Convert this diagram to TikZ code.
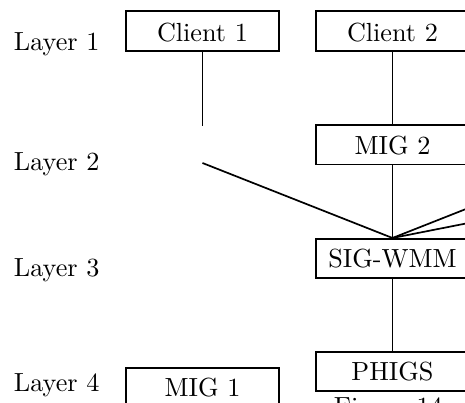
\documentclass[tikz,border=0pt]{standalone}
\usepackage{tikz}
\begin{document}
\begin{tikzpicture}[
  x=0.3817pt, y=-0.3817pt,
  line width=0.7pt,
  layerbox/.style={draw, line width=0.75pt, inner sep=0pt,
    minimum width=58.4pt, minimum height=14.9pt,
    text height=6.9pt, text depth=0pt},
  clientbox/.style={layerbox, text height=8pt},
  layerlabel/.style={anchor=base west, inner sep=0pt},
  link/.style={line width=0.65pt}
]
\useasboundingbox (0,0) rectangle (465,403);
\clip (0,0) rectangle (465,403);

% layer captions on the left
\node[layerlabel] (l1) at (13,50)  {Layer 1};
\node[layerlabel] (l2) at (13,171) {Layer 2};
\node[layerlabel] (l3) at (13,277) {Layer 3};
\node[layerlabel] (l4) at (13,392) {Layer 4};

% component boxes
\node[clientbox] (c1)   at (202.5,31)    {Client 1};
\node[clientbox] (c2)   at (392.5,31)    {Client 2};
\node[layerbox]  (mig2) at (392.5,145)   {MIG 2};
\node[layerbox]  (sig)  at (392.5,258.5) {SIG-WMM};
\node[layerbox]  (phg)  at (392.5,371.5) {PHIGS};
\node[layerbox]  (mig1) at (202.5,387.5) {MIG 1};

% free ends of the connectors
\coordinate (gapA) at (202.5,126);
\coordinate (gapB) at (202.5,163);
\coordinate (offC) at (582.5,163);
\coordinate (offD) at (772.5,163);

% connectors
\draw[link] (c1.south) -- (gapA);
\draw[link] (c2.south) -- (mig2.north);
\draw[link] (gapB) -- (sig.north);
\draw[link] (mig2.south) -- (sig.north);
\draw[link] (offC) -- (sig.north);
\draw[link] (offD) -- (sig.north);
\draw[link] (sig.south) -- (phg.north);

% figure caption
\node[anchor=base west, inner sep=0pt] (cap) at (333,416) {Figure 14};
\end{tikzpicture}
\end{document}
